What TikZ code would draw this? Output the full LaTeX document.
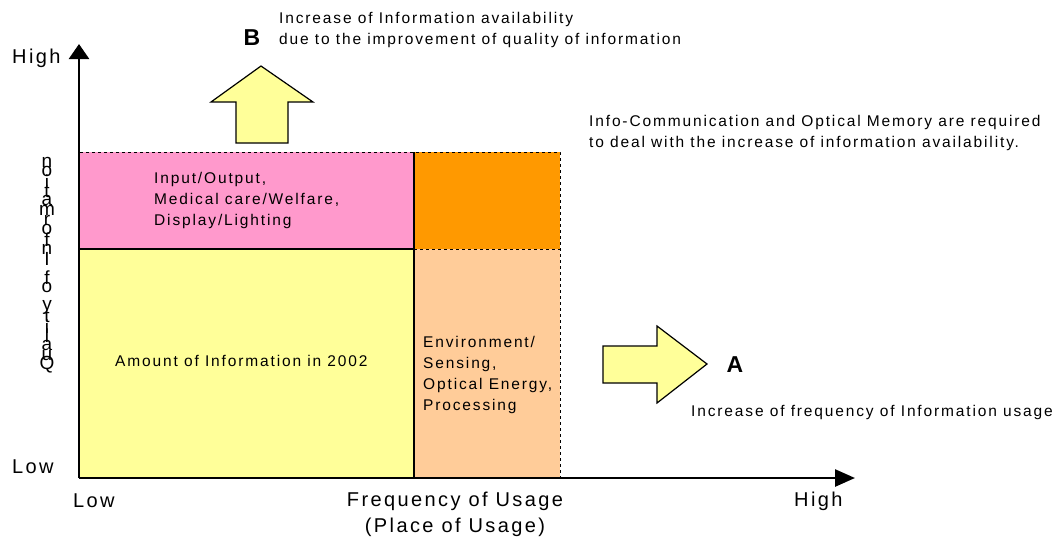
\documentclass[tikz,border=0pt]{standalone}
\usepackage{fontspec}
\setmainfont{Liberation Sans}
\newfontfamily\lsfont[LetterSpace=12]{Liberation Sans}
\usetikzlibrary{arrows.meta}
\definecolor{cyellow}{HTML}{FFFF99}
\definecolor{cpink}{HTML}{FF99CC}
\definecolor{corange}{HTML}{FF9900}
\definecolor{cpeach}{HTML}{FFCC99}
\tikzset{
  region/.style={fill=#1, draw=none, inner sep=0pt, outer sep=0pt, anchor=north west},
  boxtext/.style={font=\lsfont\fontsize{15.5}{21}\selectfont, anchor=west, align=left, inner sep=0pt},
  axistext/.style={font=\lsfont\fontsize{20}{26}\selectfont, inner sep=0pt},
  bigletter/.style={font=\bfseries\fontsize{23}{24}\selectfont, inner sep=0pt},
  vletter/.style={font=\fontsize{19}{19}\selectfont, inner sep=0pt},
  blockarrow/.style={fill=cyellow, draw=black, line width=1.2pt, line join=miter},
  axisline/.style={line width=2.6pt},
}
\begin{document}
\begin{tikzpicture}[x=1pt,y=-1pt]
\useasboundingbox (0,0) rectangle (1060,539);
% regions
\node[region=cyellow, minimum width=334pt, minimum height=228pt] (yel) at (80,249) {};
\node[region=cpink, minimum width=334pt, minimum height=97pt] (pink) at (80,152) {};
\node[region=corange, minimum width=146pt, minimum height=97pt] (orng) at (414,152) {};
\node[region=cpeach, minimum width=146pt, minimum height=228pt] (peach) at (414,249) {};
% borders
\draw[dashed, line width=1pt] (pink.north west) -- (orng.north east) -- (peach.south east);
\draw[dashed, line width=1pt] (orng.south west) -- (orng.south east);
\draw[line width=1.2pt] (yel.north west) -- (yel.north east);
\draw[line width=1.2pt] (pink.north east) -- (yel.south east);
% axes
\coordinate (O) at (79,478);
\coordinate (ytop) at (79,44);
\coordinate (xend) at (855,478);
\draw[axisline, -{Triangle[length=15pt, width=20pt]}] (O) -- (ytop);
\draw[axisline, -{Triangle[length=20pt, width=17pt]}] (O) -- (xend);
% block arrow B (up)
\draw[blockarrow] (236,143) -- (236,102) -- (211,102) -- (261,66) -- (313,102) -- (288,102) -- (288,143) -- cycle;
% block arrow A (right)
\draw[blockarrow] (603,346) -- (657,346) -- (657,326) -- (707,364) -- (657,403) -- (657,383) -- (603,383) -- cycle;
% texts in regions
\node[boxtext] (t1) at (154,200) {Input/Output,\\Medical care/Welfare,\\Display/Lighting};
\node[boxtext] (t2) at (115,361) {Amount of Information in 2002};
\node[boxtext] (t3) at (423,375) {Environment/\\Sensing,\\Optical Energy,\\Processing};
% labels
\node[bigletter] (B) at (252,38) {B};
\node[boxtext] (tb) at (279,30) {Increase of Information availability\\due to the improvement of quality of information};
\node[boxtext] (tinfo) at (589,133) {Info-Communication and Optical Memory are required\\to deal with the increase of information availability.};
\node[bigletter] (A) at (735,365) {A};
\node[boxtext] (ta) at (691,412) {Increase of frequency of Information usage};
% axis labels
\node[axistext, anchor=west] (yhigh) at (12,58) {High};
\node[axistext, anchor=west] (ylow) at (12,467) {Low};
\node[axistext, anchor=west] (xlow) at (73,501) {Low};
\node[axistext, anchor=west] (xhigh) at (794,501) {High};
\node[axistext, align=center] (xlab) at (455,514) {Frequency of Usage\\(Place of Usage)};
% stacked vertical label
\foreach \ch [count=\i from 0] in {Q,u,a,l,i,t,y,{},o,f,{},I,n,f,o,r,m,a,t,i,o,n}{
  \node[vletter] (v\i) at (47,{365-9.67*\i}) {\ch};
}
\end{tikzpicture}
\end{document}
